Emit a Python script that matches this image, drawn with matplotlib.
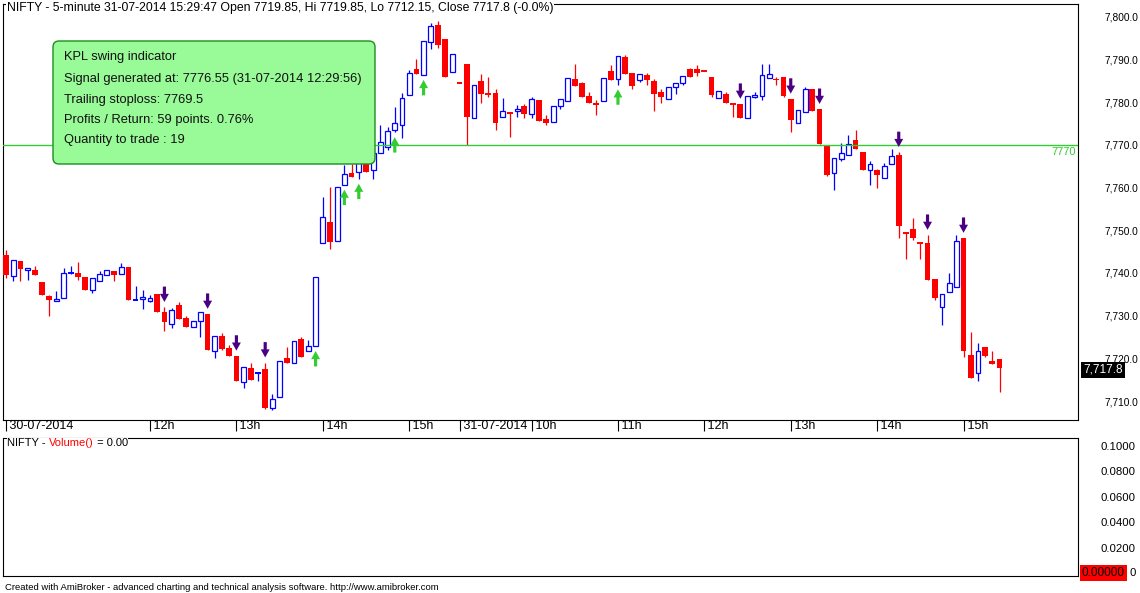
import numpy as np
import matplotlib.pyplot as plt
from matplotlib.patches import FancyBboxPatch, Polygon
from matplotlib.transforms import IdentityTransform

plt.rcParams['font.family'] = ['Liberation Sans', 'DejaVu Sans']

# NIFTY 5-minute bars, 30-07-2014 10:20 .. 31-07-2014 15:25
opens = [7744.2, 7739.2, 7742.8, 7740.6, 7740.7, 7737.9, 7734.6, 7733.5, 7734.1, 7739.8,
         7740.0, 7739.1, 7735.9, 7738.2, 7739.5, 7740.4, 7739.8, 7741.4, 7733.7, 7733.9,
         7733.4, 7735.1, 7730.9, 7728.0, 7732.5, 7729.5, 7727.3, 7728.7, 7730.4, 7721.6,
         7725.2, 7722.4, 7720.6, 7714.5, 7717.7, 7716.55, 7717.5, 7708.4, 7711.0, 7720.1,
         7718.8, 7724.5, 7721.7, 7722.8, 7747.0, 7752.0, 7747.4, 7760.6, 7763.5, 7763.7,
         7767.0, 7764.0, 7768.1, 7769.5, 7773.5, 7774.6, 7781.6, 7787.7, 7786.3, 7794.1,
         7798.1, 7794.8, 7787.0, 7784.65, 7789.0, 7776.3, 7785.0, 7781.9, 7782.2, 7776.5,
         7777.7, 7778.0, 7779.1, 7777.2, 7780.5, 7776.1, 7775.3, 7779.1, 7780.2, 7785.4,
         7784.5, 7781.5, 7779.9, 7780.2, 7787.3, 7785.4, 7790.6, 7786.9, 7785.2, 7786.4,
         7785.0, 7782.4, 7780.7, 7783.5, 7784.4, 7787.8, 7787.8, 7787.35, 7785.8, 7780.9,
         7782.0, 7779.8, 7779.6, 7776.3, 7781.2, 7781.4, 7785.7, 7785.5, 7785.8, 7780.8,
         7775.2, 7777.8, 7783.1, 7778.4, 7769.8, 7763.3, 7766.8, 7767.7, 7771.2, 7768.4,
         7764.1, 7764.1, 7762.3, 7765.6, 7767.6, 7749.35, 7750.3, 7747.1, 7747.0, 7738.6,
         7732.0, 7735.6, 7736.8, 7748.2, 7720.8, 7716.5, 7722.7, 7719.4, 7719.85]
highs = [7745.4, 7743.05, 7742.8, 7741.1, 7741.6, 7737.9, 7734.9, 7735.8, 7741.1, 7741.6,
         7742.6, 7739.1, 7738.8, 7740.4, 7740.6, 7740.4, 7742.3, 7741.4, 7736.9, 7736.0,
         7734.8, 7735.1, 7732.0, 7731.7, 7733.1, 7730.0, 7728.7, 7730.8, 7730.4, 7725.2,
         7726.0, 7723.1, 7720.6, 7717.9, 7719.0, 7716.6, 7719.0, 7711.6, 7719.4, 7722.7,
         7724.0, 7725.1, 7724.3, 7739.1, 7757.9, 7760.2, 7760.1, 7765.3, 7765.5, 7766.5,
         7768.0, 7769.0, 7774.7, 7774.3, 7778.8, 7782.1, 7787.6, 7790.2, 7794.4, 7798.5,
         7799.0, 7794.8, 7791.3, 7784.65, 7789.0, 7784.0, 7786.6, 7785.9, 7783.1, 7781.0,
         7777.7, 7779.4, 7779.5, 7781.3, 7780.5, 7777.0, 7779.1, 7780.7, 7785.6, 7789.0,
         7784.8, 7782.5, 7780.4, 7785.6, 7788.6, 7790.9, 7791.0, 7786.9, 7786.6, 7786.9,
         7785.5, 7783.1, 7783.5, 7784.5, 7786.2, 7788.0, 7788.6, 7787.35, 7785.8, 7782.6,
         7782.3, 7779.8, 7779.6, 7781.4, 7782.4, 7789.0, 7789.0, 7786.0, 7785.8, 7780.8,
         7778.1, 7783.6, 7783.1, 7778.4, 7769.8, 7766.9, 7770.5, 7772.3, 7773.5, 7768.4,
         7766.3, 7764.4, 7765.7, 7769.1, 7768.3, 7749.35, 7752.9, 7747.1, 7748.9, 7738.6,
         7735.0, 7740.0, 7748.9, 7748.2, 7726.2, 7723.5, 7722.7, 7721.7, 7719.85]
lows = [7738.9, 7738.2, 7738.2, 7738.4, 7739.4, 7734.9, 7730.0, 7733.5, 7734.1, 7739.8,
        7738.4, 7736.1, 7735.4, 7738.2, 7739.5, 7738.2, 7739.8, 7733.7, 7733.7, 7731.6,
        7733.1, 7730.9, 7726.4, 7727.2, 7729.1, 7727.4, 7727.3, 7725.1, 7722.0, 7720.0,
        7722.0, 7720.6, 7714.8, 7713.1, 7715.0, 7714.7, 7708.1, 7707.9, 7711.0, 7718.9,
        7718.8, 7720.2, 7721.7, 7722.8, 7747.0, 7745.7, 7747.4, 7760.6, 7762.4, 7762.0,
        7763.7, 7762.0, 7768.1, 7768.8, 7772.9, 7771.6, 7781.6, 7786.6, 7786.3, 7792.5,
        7792.7, 7785.9, 7787.0, 7784.6, 7770.0, 7776.3, 7779.9, 7781.3, 7773.4, 7776.5,
        7771.9, 7776.6, 7776.2, 7776.4, 7775.5, 7774.7, 7775.3, 7778.5, 7780.2, 7783.7,
        7781.3, 7779.9, 7777.0, 7780.2, 7785.3, 7784.1, 7786.7, 7783.1, 7784.7, 7784.1,
        7778.0, 7779.9, 7780.7, 7781.9, 7784.1, 7786.0, 7786.2, 7787.3, 7781.1, 7780.9,
        7779.8, 7776.6, 7776.3, 7776.3, 7780.9, 7780.4, 7785.7, 7784.1, 7781.2, 7772.9,
        7775.2, 7777.8, 7778.0, 7770.3, 7762.8, 7759.5, 7766.3, 7767.7, 7769.1, 7764.1,
        7760.6, 7760.0, 7762.3, 7765.6, 7748.3, 7743.2, 7747.7, 7743.3, 7738.4, 7733.7,
        7727.8, 7735.6, 7736.8, 7720.2, 7715.5, 7714.6, 7720.2, 7718.7, 7712.15]
closes = [7739.4, 7743.0, 7741.0, 7741.1, 7739.4, 7734.9, 7733.7, 7733.8, 7739.9, 7740.0,
          7739.1, 7736.1, 7738.8, 7739.7, 7740.6, 7739.6, 7741.3, 7733.7, 7733.75, 7734.3,
          7734.1, 7730.9, 7728.4, 7731.3, 7729.1, 7727.4, 7728.7, 7730.8, 7722.0, 7725.2,
          7722.2, 7720.6, 7714.8, 7717.9, 7715.0, 7716.6, 7708.4, 7710.5, 7719.4, 7718.9,
          7724.0, 7720.2, 7722.9, 7739.1, 7753.1, 7747.2, 7760.1, 7763.1, 7762.4, 7766.3,
          7763.7, 7768.1, 7770.6, 7773.3, 7775.1, 7781.0, 7786.8, 7786.6, 7794.4, 7797.9,
          7793.5, 7785.9, 7791.3, 7784.6, 7776.6, 7784.0, 7781.8, 7781.8, 7775.2, 7778.0,
          7777.3, 7778.4, 7777.3, 7780.7, 7775.7, 7775.2, 7779.1, 7780.7, 7785.6, 7783.7,
          7781.3, 7779.9, 7779.4, 7785.6, 7785.3, 7790.9, 7786.7, 7783.9, 7786.6, 7785.3,
          7782.0, 7781.1, 7783.5, 7784.5, 7786.2, 7786.0, 7786.9, 7787.3, 7781.7, 7782.6,
          7779.8, 7779.6, 7776.3, 7781.4, 7781.7, 7786.4, 7786.6, 7785.1, 7781.5, 7775.9,
          7778.1, 7783.1, 7778.0, 7770.3, 7763.0, 7766.9, 7768.1, 7770.2, 7769.1, 7764.1,
          7765.5, 7762.9, 7765.1, 7767.4, 7751.1, 7749.3, 7748.3, 7747.0, 7738.4, 7734.2,
          7735.0, 7737.6, 7747.5, 7721.6, 7715.5, 7721.7, 7720.6, 7718.7, 7717.8]

sell_bars = [22, 28, 32, 36, 102, 109, 113, 124, 128, 133]
buy_bars = [43, 47, 49, 54, 58, 85]

tick_pos = [0, 20, 32, 44, 56, 63, 73, 85, 97, 109, 121, 133]
tick_labels = ['30-07-2014', '12h', '13h', '14h', '15h', '31-07-2014',
               '10h', '11h', '12h', '13h', '14h', '15h']

price_ticks = [7710, 7720, 7730, 7740, 7750, 7760, 7770, 7780, 7790, 7800]
stop_level = 7770
vol_ticks = [0.02, 0.04, 0.06, 0.08, 0.1]

title = ('NIFTY - 5-minute 31-07-2014 15:29:47 Open 7719.85, Hi 7719.85, '
         'Lo 7712.15, Close 7717.8 (-0.0%)')
info_lines = ['KPL swing indicator',
              'Signal generated at: 7776.55 (31-07-2014 12:29:56)',
              'Trailing stoploss: 7769.5',
              'Profits / Return: 59 points. 0.76%',
              'Quantity to trade : 19']
vol_title = [('NIFTY - ', 'black'), ('Volume()', '#FF0000'), (' = 0.00', 'black')]
footer = ('Created with AmiBroker - advanced charting and technical analysis '
          'software. http://www.amibroker.com')

W, H = 1140, 593


def fx(px):
    return px / W


def fy(py):
    return 1 - py / H


fig = plt.figure(figsize=(W / 100, H / 100), dpi=100)
ax = fig.add_axes([fx(3), fy(420), fx(1078) - fx(3), fy(4) - fy(420)])
axv = fig.add_axes([fx(3), fy(576), fx(1078) - fx(3), fy(438) - fy(576)])

o = np.array(opens)
hi = np.array(highs)
lo = np.array(lows)
c = np.array(closes)
x = np.arange(len(o))
up = c > o
doji = np.abs(c - o) < 0.2
cols = np.where(up, '#0000FF', '#FF0000')

# wicks
ax.vlines(x, lo, hi, colors=cols, lw=0.9, zorder=2)
# bodies
red = ~up & ~doji
blue = up & ~doji
ax.bar(x[red], (o - c)[red], bottom=c[red], width=0.8, color='#FF0000',
       lw=0, zorder=3)
ax.bar(x[blue], (c - o)[blue], bottom=o[blue], width=0.66, facecolor='white',
       edgecolor='#0000FF', lw=0.9, zorder=3)
ax.hlines(c[doji], x[doji] - 0.4, x[doji] + 0.4, colors=cols[doji], lw=1.4,
          zorder=3)


def arrow(xc, tip, sign, color):
    # sign -1: points down, +1: points up
    hw, sw, hh, sh = 0.62, 0.22, 1.9, 1.7
    neck = tip - sign * hh
    tail = neck - sign * sh
    pts = [(xc, tip), (xc + hw, neck), (xc + sw, neck), (xc + sw, tail),
           (xc - sw, tail), (xc - sw, neck), (xc - hw, neck)]
    ax.add_patch(Polygon(pts, closed=True, fc=color, ec='none', zorder=5))


for i in sell_bars:
    arrow(x[i], hi[i] + 1.2, -1, '#4B0082')
for i in buy_bars:
    arrow(x[i], lo[i] - 1.1, 1, '#33CC33')

ax.axhline(stop_level, color='#33CC33', lw=1, zorder=4)
ax.annotate(str(stop_level), xy=(1, stop_level), xycoords=('axes fraction', 'data'),
            xytext=(-2, -7), textcoords='offset pixels', ha='right', va='center',
            color='#33CC33', fontsize=8)

ax.set_xlim(-0.42, 148.9)
ax.set_ylim(7705.55, 7803.0)
ax.set_xticks(tick_pos)
ax.set_xticklabels([' ' + t for t in tick_labels], ha='left')
ax.tick_params(axis='x', direction='out', length=8, width=0.8, pad=-8,
               labelsize=9)
ax.yaxis.tick_right()
ax.set_yticks(price_ticks)
ax.set_yticklabels([f'{v:,.1f}' for v in price_ticks])
ax.tick_params(axis='y', length=0, pad=19, labelsize=7.3)
for s in ax.spines.values():
    s.set_linewidth(0.8)

# last price marker
ax.annotate(f'{closes[-1]:,.1f}', xy=(1, closes[-1]),
            xycoords=('axes fraction', 'data'), xytext=(5, -2),
            textcoords='offset pixels', ha='left', va='center', color='white',
            fontsize=8.5, zorder=10, annotation_clip=False,
            bbox=dict(fc='black', ec='none', pad=1.5))

# info box
box = FancyBboxPatch((53, H - 164), 322, 123, boxstyle='round,pad=0,rounding_size=6',
                     transform=IdentityTransform(), fc='#98FB98', ec='#1E8C1E',
                     lw=1, zorder=6)
fig.add_artist(box)
for line, yy in zip(info_lines, [57, 79, 100, 120, 140]):
    fig.text(fx(64), fy(yy), line, ha='left', va='center', fontsize=9.3,
             color='#111111', zorder=7)

fig.text(fx(7), fy(8), title, ha='left', va='center', fontsize=8.8, zorder=8,
         bbox=dict(fc='white', ec='none', pad=0.5))

# volume pane
axv.set_xlim(-0.42, 148.9)
axv.set_ylim(-0.00236, 0.1063)
axv.set_xticks([])
axv.yaxis.tick_right()
axv.set_yticks(vol_ticks)
axv.set_yticklabels([f'{v:.4f}' for v in vol_ticks])
axv.tick_params(axis='y', length=0, pad=16, labelsize=8.2)
for s in axv.spines.values():
    s.set_linewidth(0.8)
zero_lbl = axv.annotate('0.00000', xy=(1, 0), xycoords=('axes fraction', 'data'),
                        xytext=(4, 0), textcoords='offset pixels', ha='left',
                        va='center', fontsize=8.5, zorder=10, annotation_clip=False,
                        bbox=dict(fc='#FF0000', ec='none', pad=1.8))
axv.annotate('0', xy=(1, 0.5), xycoords=zero_lbl, xytext=(4, 0),
             textcoords='offset pixels', ha='left', va='center', fontsize=8.2,
             annotation_clip=False)

# pane title, pieces laid out one after another
renderer = fig.canvas.get_renderer()
xpos = 7
for part, colr in vol_title:
    t = fig.text(fx(xpos), fy(443), part, ha='left', va='center', fontsize=8,
                 color=colr, zorder=8, bbox=dict(fc='white', ec='none', pad=0))
    xpos += t.get_window_extent(renderer).width

fig.text(fx(5), fy(587), footer, ha='left', va='center', fontsize=6.8)

fig.savefig('out.png', dpi=100, facecolor='white')
